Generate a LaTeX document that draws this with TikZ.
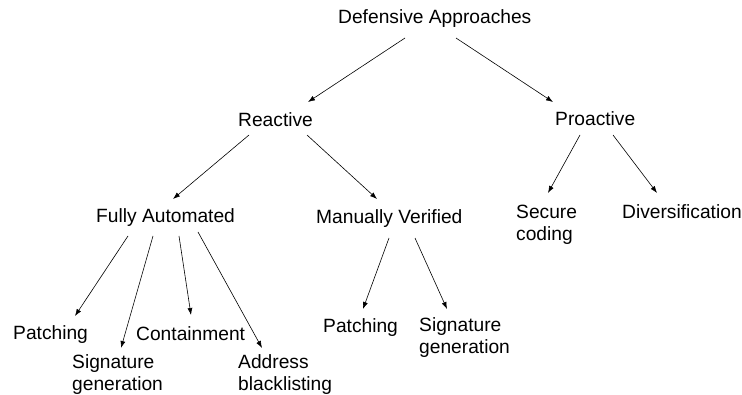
\documentclass[tikz,border=0pt]{standalone}
\usepackage{fontspec}
\setmainfont{Liberation Sans}
\usetikzlibrary{arrows.meta}
\begin{document}
\begin{tikzpicture}[x=1pt,y=-1pt,
  lbl/.style={anchor=base west,inner sep=0pt,font=\fontsize{19.2pt}{22pt}\selectfont},
  arr/.style={line width=0.6pt,-{Latex[length=7pt,width=5pt]}}]
\useasboundingbox (0,0) rectangle (742,395);
\newcommand{\twol}[2]{\begin{tabular}[t]{@{}l@{}}#1\\#2\end{tabular}}
\node[lbl] (def) at (338,24) {Defensive Approaches};
\node[lbl] (rea) at (238,127) {Reactive};
\node[lbl] (pro) at (555,126) {Proactive};
\node[lbl] (fa) at (96,223) {Fully Automated};
\node[lbl] (mv) at (316,224) {Manually Verified};
\node[lbl] (sec) at (516,219) {\twol{Secure}{coding}};
\node[lbl] (div) at (622,219) {Diversification};
\node[lbl] (pat1) at (13,340) {Patching};
\node[lbl] (sig1) at (72,369) {\twol{Signature}{generation}};
\node[lbl] (con) at (136,341) {Containment};
\node[lbl] (add) at (238,369) {\twol{Address}{blacklisting}};
\node[lbl] (pat2) at (323,333) {Patching};
\node[lbl] (sig2) at (419,332) {\twol{Signature}{generation}};
\draw[arr] ([shift={(67,14)}]def.base west) -- ([shift={(70,-25)}]rea.base west);
\draw[arr] ([shift={(118,14)}]def.base west) -- ([shift={(-2,-24)}]pro.base west);
\draw[arr] ([shift={(11,8)}]rea.base west) -- ([shift={(77,-24)}]fa.base west);
\draw[arr] ([shift={(69,8)}]rea.base west) -- ([shift={(61,-25)}]mv.base west);
\draw[arr] ([shift={(25,9)}]pro.base west) -- ([shift={(32,-26)}]sec.base west);
\draw[arr] ([shift={(58,9)}]pro.base west) -- ([shift={(35,-26)}]div.base west);
\draw[arr] ([shift={(32,13)}]fa.base west) -- ([shift={(62,-24)}]pat1.base west);
\draw[arr] ([shift={(57,13)}]fa.base west) -- ([shift={(49,-21)}]sig1.base west);
\draw[arr] ([shift={(83,13)}]fa.base west) -- ([shift={(55,-26)}]con.base west);
\draw[arr] ([shift={(102,9)}]fa.base west) -- ([shift={(24,-21)}]add.base west);
\draw[arr] ([shift={(73,14)}]mv.base west) -- ([shift={(40,-24)}]pat2.base west);
\draw[arr] ([shift={(99,14)}]mv.base west) -- ([shift={(28,-23)}]sig2.base west);
\end{tikzpicture}
\end{document}
